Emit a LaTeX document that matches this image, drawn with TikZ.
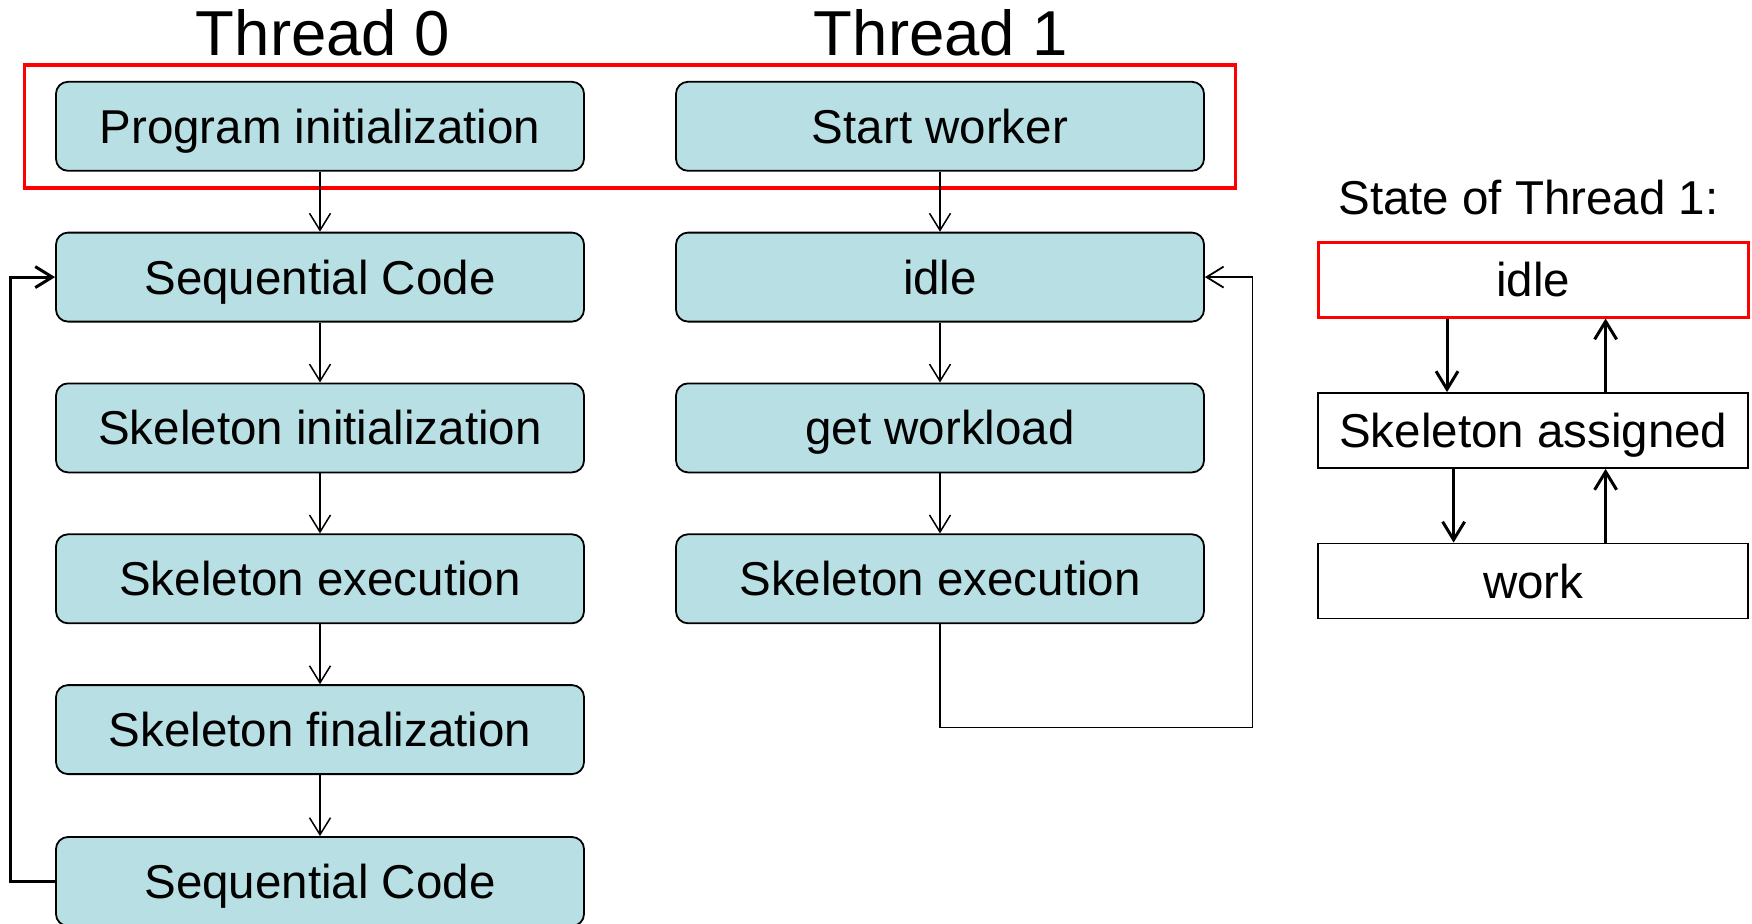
\documentclass[tikz,border=0pt]{standalone}
\usepackage{fontspec}
\setmainfont{Liberation Sans}
\usetikzlibrary{arrows.meta}
\definecolor{boxfill}{HTML}{B8DFE3}
\definecolor{hired}{HTML}{FF0000}
\tikzset{
  boxfont/.style={font=\fontsize{47.5}{50}\selectfont},
  flowbox/.style={draw=black, line width=1.8pt, fill=boxfill, rounded corners=12pt,
    minimum width=528pt, minimum height=89pt, inner sep=0pt, boxfont,
    text height=34pt, text depth=0pt},
  statebox/.style={draw=black, line width=1.8pt, minimum width=430pt,
    minimum height=75pt, inner sep=0pt, boxfont, text height=34pt, text depth=0pt},
  threadtitle/.style={font=\fontsize{63.5}{66}\selectfont, anchor=base, inner sep=0pt},
  flow/.style={line width=1.5pt, -{Straight Barb[length=17pt,width=21pt]}},
  backedge/.style={line width=1.8pt, -{Straight Barb[length=17pt,width=21pt]}},
  statearrow/.style={line width=3pt, -{Straight Barb[length=18pt,width=22pt]}},
  highlight/.style={draw=hired, line width=3.5pt}
}
\begin{document}
\begin{tikzpicture}[x=1pt,y=-1pt]
\useasboundingbox (0,0) rectangle (1752,923);

% column titles
\node[threadtitle] (t0) at (323,56) {Thread 0};
\node[threadtitle] (t1) at (941,56) {Thread 1};

% Thread 0 flow
\node[flowbox] (a1) at (320,126.3) {Program initialization};
\node[flowbox] (a2) at (320,277.1) {Sequential Code};
\node[flowbox] (a3) at (320,427.9) {Skeleton initialization};
\node[flowbox] (a4) at (320,578.8) {Skeleton execution};
\node[flowbox] (a5) at (320,729.6) {Skeleton finalization};
\node[flowbox] (a6) at (320,881.5) {Sequential Code};

% Thread 1 flow
\node[flowbox] (b1) at (940,126.3) {Start worker};
\node[flowbox] (b2) at (940,277.1) {idle};
\node[flowbox] (b3) at (940,427.9) {get workload};
\node[flowbox] (b4) at (940,578.8) {Skeleton execution};

% start-up phase frame
\node[highlight, minimum width=1211pt, minimum height=123pt, inner sep=0pt] (init) at (630.2,126.3) {};

\draw[flow] (a1) -- (a2);
\draw[flow] (a2) -- (a3);
\draw[flow] (a3) -- (a4);
\draw[flow] (a4) -- (a5);
\draw[flow] (a5) -- (a6);
\draw[flow] (b1) -- (b2);
\draw[flow] (b2) -- (b3);
\draw[flow] (b3) -- (b4);

% loops back
\coordinate (lx) at (10,0);
\draw[backedge, line width=3pt] (a6.west) -| (lx |- a2.west) -- (a2.west);
\coordinate (rb) at (1252.5,727.4);
\draw[backedge] (b4.south) |- (rb) |- (b2.east);

% state machine of Thread 1
\node[inner sep=0pt, anchor=base, boxfont] (st) at (1528.5,214.5) {State of Thread 1:};
\node[statebox, draw=hired, line width=3pt] (s1) at (1533.3,279.5) {idle};
\node[statebox] (s2) at (1533.3,430.5) {Skeleton assigned};
\node[statebox] (s3) at (1533.3,581) {work};

\coordinate (d1) at (1447,0);
\coordinate (d2) at (1453.6,0);
\coordinate (u1) at (1605.6,0);
\draw[statearrow] (d1 |- s1.south) -- (d1 |- s2.north);
\draw[statearrow] (u1 |- s2.north) -- (u1 |- s1.south);
\draw[statearrow] (d2 |- s2.south) -- (d2 |- s3.north);
\draw[statearrow] (u1 |- s3.north) -- (u1 |- s2.south);
\end{tikzpicture}
\end{document}
